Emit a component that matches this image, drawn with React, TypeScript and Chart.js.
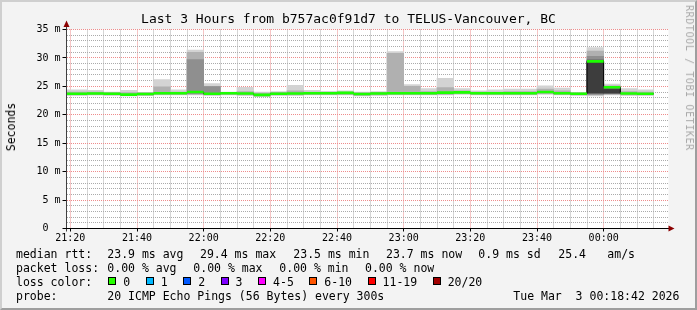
import React, { useEffect, useRef } from 'react';
import { Chart, registerables } from 'chart.js';

Chart.register(...registerables);

// ---- data ----
const stepEnds = [
  '21:20', '21:25', '21:30', '21:35', '21:40', '21:45', '21:50', '21:55',
  '22:00', '22:05', '22:10', '22:15', '22:20', '22:25', '22:30', '22:35',
  '22:40', '22:45', '22:50', '22:55', '23:00', '23:05', '23:10', '23:15',
  '23:20', '23:25', '23:30', '23:35', '23:40', '23:45', '23:50', '23:55',
  '00:00', '00:05', '00:10', '00:15',
];

const medianMs = [
  23.7, 23.7, 23.75, 23.7, 23.55, 23.65, 23.8, 23.8,
  24.0, 23.7, 23.8, 23.75, 23.5, 23.7, 23.75, 23.8,
  23.8, 23.85, 23.65, 23.75, 23.8, 23.8, 23.8, 23.9,
  23.95, 23.8, 23.8, 23.8, 23.8, 24.0, 23.8, 23.7,
  29.4, 24.85, 23.75, 23.7,
];

const smokeOuterLo = [
  23.4, 23.4, 23.45, 23.4, 23.3, 23.35, 23.5, 23.5,
  23.5, 23.4, 23.5, 23.4, 23.2, 23.4, 23.4, 23.5,
  23.5, 23.5, 23.3, 23.4, 23.5, 23.5, 23.5, 23.5,
  23.6, 23.5, 23.5, 23.5, 23.5, 23.6, 23.5, 23.4,
  23.3, 23.5, 23.4, 23.4,
];
const smokeOuterHi = [
  24.4, 24.4, 24.3, 24.0, 24.3, 23.95, 26.2, 24.4,
  31.4, 25.5, 24.0, 24.85, 24.0, 24.1, 25.2, 24.3,
  24.1, 24.2, 24.0, 24.1, 31.1, 25.3, 24.6, 26.4,
  24.6, 24.2, 24.4, 24.5, 24.5, 25.1, 24.7, 23.9,
  31.8, 25.4, 24.6, 24.4,
];
const smokeMidLo = [
  23.5, 23.5, 23.55, 23.5, 23.4, 23.45, 23.6, 23.6,
  23.6, 23.5, 23.6, 23.5, 23.3, 23.5, 23.5, 23.6,
  23.6, 23.6, 23.4, 23.5, 23.6, 23.6, 23.6, 23.6,
  23.7, 23.6, 23.6, 23.6, 23.6, 23.7, 23.6, 23.5,
  23.5, 23.6, 23.5, 23.5,
];
const smokeMidHi = [
  24.0, 24.0, 24.0, 23.9, 23.9, 23.85, 24.9, 24.0,
  31.0, 25.0, 23.95, 24.1, 23.8, 23.95, 24.2, 24.0,
  24.0, 24.0, 23.85, 23.95, 30.8, 25.0, 24.1, 24.8,
  24.2, 24.0, 24.0, 24.1, 24.1, 24.5, 24.2, 23.85,
  31.2, 25.1, 24.1, 24.0,
];
const N = null;
const smokeInnerLo = [
  N, N, N, N, N, N, N, N,
  23.7, 23.55, N, N, N, N, N, N,
  N, N, N, N, N, N, N, N,
  N, N, N, N, N, N, N, N,
  23.6, 23.7, N, N,
];
const smokeInnerHi = [
  N, N, N, N, N, N, N, N,
  29.7, 24.95, N, N, N, N, N, N,
  N, N, N, N, N, N, N, N,
  N, N, N, N, N, N, N, N,
  30.3, 24.9, N, N,
];
const smokeCoreLo = [
  N, N, N, N, N, N, N, N,
  N, N, N, N, N, N, N, N,
  N, N, N, N, N, N, N, N,
  N, N, N, N, N, N, N, N,
  23.8, 23.8, N, N,
];
const smokeCoreHi = [
  N, N, N, N, N, N, N, N,
  N, N, N, N, N, N, N, N,
  N, N, N, N, N, N, N, N,
  N, N, N, N, N, N, N, N,
  29.6, 24.55, N, N,
];

const xTickLabels = ['21:20', '21:40', '22:00', '22:20', '22:40', '23:00', '23:20', '23:40', '00:00'];
const yTickValues = [0, 5, 10, 15, 20, 25, 30, 35];
const yTickLabels = ['0  ', '5 m', '10 m', '15 m', '20 m', '25 m', '30 m', '35 m'];

const titleText = 'Last 3 Hours from b757ac0f91d7 to TELUS-Vancouver, BC';
const yAxisTitle = 'Seconds';
const watermark = 'RRDTOOL / TOBI OETIKER';
const rttStats = ['23.9 ms avg', '29.4 ms max', '23.5 ms min', '23.7 ms now', '0.9 ms sd', '25.4', 'am/s'];
const lossStats = ['0.00 % avg', '0.00 % max', '0.00 % min', '0.00 % now'];
const lossLabels = ['0', '1', '2', '3', '4-5', '6-10', '11-19', '20/20'];
const lossColors = ['#26ff00', '#00b8ff', '#0059ff', '#7e00ff', '#ff00ff', '#ff5500', '#ff0000', '#a10000'];
const probeText = '20 ICMP Echo Pings (56 Bytes) every 300s';
const stampText = 'Tue Mar  3 00:18:42 2026';

// ---- helpers ----
const toMin = (s: string) => {
  const [h0, m] = s.split(':').map(Number);
  const h = h0 < 12 ? h0 + 24 : h0;
  return h * 60 + m - 21 * 60;
};

const MONO = '"DejaVu Sans Mono", monospace';
const GREEN = '#1cff00';
const MAJOR = '#ee8c8c';
const MINOR = '#ababab';

const rttX = [107.3, 200, 293.3, 386, 478.3, 558.3, 607.3];
const lossX = [107.3, 193.3, 279.3, 365];

function Txt(props: { x: number; y: number; size?: number; children: React.ReactNode; style?: React.CSSProperties }) {
  return (
    <div
      style={{
        position: 'absolute',
        left: props.x,
        top: props.y,
        fontSize: props.size ?? 11.5,
        lineHeight: '14px',
        whiteSpace: 'pre',
        color: '#000',
        ...props.style,
      }}
    >
      {props.children}
    </div>
  );
}

const decor = {
  id: 'decor',
  beforeDraw(chart: any) {
    const { ctx, chartArea } = chart;
    const { left, top, right, bottom } = chartArea;
    ctx.save();
    ctx.fillStyle = '#ffffff';
    ctx.fillRect(left, top, right - left, bottom - top);
    ctx.restore();
  },
  afterDraw(chart: any) {
    const { ctx, chartArea } = chart;
    const { left, top, right, bottom } = chartArea;
    ctx.save();
    ctx.strokeStyle = '#404040';
    ctx.lineWidth = 1;
    ctx.beginPath();
    ctx.moveTo(left, bottom + 3);
    ctx.lineTo(left, top - 3);
    ctx.stroke();
    ctx.strokeStyle = '#000';
    ctx.beginPath();
    ctx.moveTo(left - 3, bottom);
    ctx.lineTo(right + 1, bottom);
    ctx.stroke();
    ctx.fillStyle = '#8b0000';
    ctx.beginPath();
    ctx.moveTo(left, top - 9);
    ctx.lineTo(left - 3, top - 2.5);
    ctx.lineTo(left + 3, top - 2.5);
    ctx.closePath();
    ctx.fill();
    ctx.beginPath();
    ctx.moveTo(right + 6, bottom);
    ctx.lineTo(right, bottom - 3);
    ctx.lineTo(right, bottom + 3);
    ctx.closePath();
    ctx.fill();
    ctx.restore();
  },
};

export default function App() {
  const ref = useRef<HTMLCanvasElement>(null);

  useEffect(() => {
    const canvas = ref.current;
    if (!canvas) return;
    const stepMin = stepEnds.map(toMin);
    const xMajor = xTickLabels.map(toMin);

    const layer = (lo: (number | null)[], hi: (number | null)[]) =>
      stepMin
        .map((e, i) => (lo[i] == null || hi[i] == null ? null : { x: e - 2.5, y: [lo[i], hi[i]] }))
        .filter((p) => p !== null);

    const barDs = (label: string, lo: (number | null)[], hi: (number | null)[], color: string, order: number) => ({
      type: 'bar',
      label,
      data: layer(lo, hi),
      backgroundColor: color,
      borderWidth: 0,
      grouped: false,
      barPercentage: 1,
      categoryPercentage: 1,
      order,
    });

    const medianSegs: any[] = [];
    stepMin.forEach((e, i) => {
      medianSegs.push({ x: e - 5, y: medianMs[i] }, { x: e, y: medianMs[i] }, { x: e, y: null });
    });
    const last = stepMin.length - 1;
    const medianSteps = stepMin
      .map((e, i) => ({ x: e - 5, y: medianMs[i] }))
      .concat([{ x: stepMin[last], y: medianMs[last] }]);

    const chart = new Chart(canvas, {
      type: 'bar',
      data: {
        datasets: [
          {
            type: 'line',
            label: 'median',
            data: medianSegs,
            borderColor: GREEN,
            borderWidth: 2.6,
            borderCapStyle: 'butt',
            pointRadius: 0,
            fill: false,
            spanGaps: false,
            order: 0,
          },
          {
            type: 'line',
            label: 'median steps',
            data: medianSteps,
            stepped: true,
            borderColor: '#000000',
            borderWidth: 1,
            pointRadius: 0,
            fill: false,
            order: 1,
          },
          barDs('smoke core', smokeCoreLo, smokeCoreHi, '#3d3d3d', 2),
          barDs('smoke inner', smokeInnerLo, smokeInnerHi, '#8f8f8f', 3),
          barDs('smoke mid', smokeMidLo, smokeMidHi, '#b0b0b0', 4),
          barDs('smoke outer', smokeOuterLo, smokeOuterHi, '#d3d3d3', 5),
        ] as any,
      },
      options: {
        responsive: false,
        animation: false,
        devicePixelRatio: 1,
        events: [],
        layout: { padding: { left: 0, top: 29.5, right: 697 - 668.5, bottom: 0 } },
        plugins: {
          legend: { display: false },
          tooltip: { enabled: false },
          title: { display: false },
        },
        scales: {
          x: {
            type: 'linear',
            min: 18.85,
            max: 199.45,
            offset: false,
            grid: {
              offset: false,
              lineWidth: 1,
              color: (c: any) => (c.tick && xMajor.includes(c.tick.value) ? MAJOR : MINOR),
              tickLength: 3,
              tickColor: (c: any) => (c.tick && xMajor.includes(c.tick.value) ? '#000' : 'rgba(0,0,0,0)'),
            },
            border: { display: true, color: '#000', width: 1, dash: [1, 1] },
            ticks: {
              autoSkip: false,
              maxRotation: 0,
              padding: 1,
              color: '#000',
              font: { family: MONO, size: 10 },
              callback: (v: any) => {
                const i = xMajor.indexOf(Number(v));
                return i >= 0 ? xTickLabels[i] : '';
              },
            },
            afterBuildTicks: (s: any) => {
              s.ticks = stepMin.map((v) => ({ value: v }));
            },
            afterFit: (s: any) => {
              s.height = 81.5;
            },
          },
          y: {
            type: 'linear',
            min: 0,
            max: 35,
            grid: {
              lineWidth: 1,
              color: (c: any) => (c.tick && c.tick.value % 5 === 0 ? MAJOR : MINOR),
              tickLength: 4,
              tickColor: (c: any) => (c.tick && c.tick.value % 5 === 0 ? '#000' : 'rgba(0,0,0,0)'),
            },
            border: { display: true, color: '#404040', width: 1, dash: [1, 1] },
            ticks: {
              autoSkip: false,
              padding: 2,
              color: '#000',
              font: { family: MONO, size: 10 },
              callback: (v: any) => {
                const i = yTickValues.indexOf(Number(v));
                return i >= 0 ? yTickLabels[i] : '';
              },
            },
            afterBuildTicks: (s: any) => {
              const t: any[] = [];
              for (let v = 0; v <= 35; v++) t.push({ value: v });
              s.ticks = t;
            },
            afterFit: (s: any) => {
              s.width = 66.5;
            },
          },
        },
      } as any,
      plugins: [decor as any],
    });

    return () => chart.destroy();
  }, []);

  return (
    <div
      style={{
        position: 'fixed',
        left: 0,
        top: 0,
        width: 697,
        height: 310,
        background: '#f3f3f3',
        overflow: 'hidden',
        fontFamily: MONO,
      }}
    >
      <canvas ref={ref} width={697} height={310} style={{ position: 'absolute', left: 0, top: 0, width: 697, height: 310 }} />
      <div
        style={{
          position: 'absolute',
          left: 0,
          top: 11,
          width: 697,
          textAlign: 'center',
          fontSize: 13,
          lineHeight: '16px',
          whiteSpace: 'pre',
          color: '#000',
        }}
      >
        {titleText}
      </div>
      <div
        style={{
          position: 'absolute',
          left: 11,
          top: 127.4,
          fontSize: 11.5,
          lineHeight: '14px',
          whiteSpace: 'pre',
          transform: 'translate(-50%, -50%) rotate(-90deg)',
          color: '#000',
        }}
      >
        {yAxisTitle}
      </div>
      <div
        style={{
          position: 'absolute',
          left: 688.5,
          top: 78,
          fontSize: 10,
          letterSpacing: '0.6px',
          lineHeight: '12px',
          whiteSpace: 'pre',
          transform: 'translate(-50%, -50%) rotate(90deg)',
          color: '#aaaaaa',
        }}
      >
        {watermark}
      </div>

      <Txt x={16} y={247.3}>median rtt:</Txt>
      {rttStats.map((s, i) => (
        <Txt key={'r' + i} x={rttX[i]} y={247.3}>
          {s}
        </Txt>
      ))}
      <Txt x={16} y={261.1}>packet loss:</Txt>
      {lossStats.map((s, i) => (
        <Txt key={'l' + i} x={lossX[i]} y={261.1}>
          {s}
        </Txt>
      ))}
      <Txt x={16} y={274.9}>loss color:</Txt>
      <div
        style={{
          position: 'absolute',
          left: 108.3,
          top: 274.9,
          height: 14,
          display: 'flex',
          alignItems: 'center',
          fontSize: 11.5,
          lineHeight: '14px',
          whiteSpace: 'pre',
        }}
      >
        {lossLabels.map((l, i) => (
          <div key={'c' + i} style={{ display: 'flex', alignItems: 'center', marginRight: 15.5 }}>
            <span
              style={{
                display: 'inline-block',
                width: 8,
                height: 8,
                boxSizing: 'border-box',
                border: '1px solid #000',
                background: lossColors[i],
                marginRight: 7,
                position: 'relative',
                top: -0.5,
              }}
            />
            <span>{l}</span>
          </div>
        ))}
      </div>
      <Txt x={16} y={288.7}>probe:</Txt>
      <Txt x={107.3} y={288.7}>{probeText}</Txt>
      <Txt x={513.3} y={288.7}>{stampText}</Txt>

      <div
        style={{
          position: 'absolute',
          left: 0,
          top: 0,
          width: 697,
          height: 310,
          boxSizing: 'border-box',
          borderTop: '2px solid #cfcfcf',
          borderLeft: '2px solid #cfcfcf',
          borderRight: '2px solid #9e9e9e',
          borderBottom: '2px solid #9e9e9e',
          pointerEvents: 'none',
        }}
      />
    </div>
  );
}
